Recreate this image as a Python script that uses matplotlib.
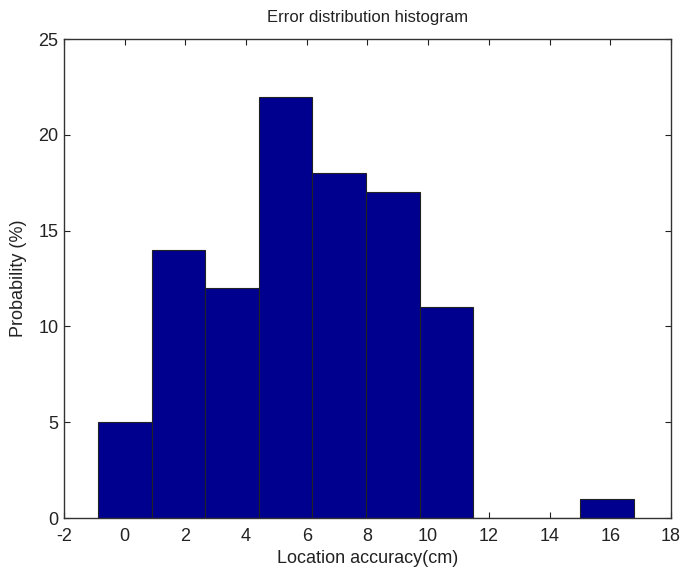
import matplotlib
matplotlib.use("Agg")
import matplotlib.pyplot as plt

# Data
bin_left_edges = [-0.88, 0.89, 2.65, 4.42, 6.18, 7.95, 9.72, 11.48, 13.25, 15.01]
bin_width = 1.766
probabilities = [5, 14, 12, 22, 18, 17, 11, 0, 0, 1]
x_ticks = [-2, 0, 2, 4, 6, 8, 10, 12, 14, 16, 18]
y_ticks = [0, 5, 10, 15, 20, 25]

plt.rcParams['font.family'] = ['Liberation Sans', 'DejaVu Sans']
plt.rcParams['axes.unicode_minus'] = False

fig = plt.figure(figsize=(6.86, 5.67), dpi=100)
ax = fig.add_axes([0.0933, 0.0864, 0.8847, 0.8446])

ax.bar(bin_left_edges, probabilities, width=bin_width, align='edge',
       color='#00008F', edgecolor='#222222', linewidth=0.8, zorder=2)

ax.set_xlim(-2, 18)
ax.set_ylim(0, 25)
ax.set_xticks(x_ticks)
ax.set_yticks(y_ticks)
ax.tick_params(direction='in', length=4, width=0.8, top=True, right=True,
               labelsize=13, colors='#222222')
ax.tick_params(axis='x', pad=7)
ax.tick_params(axis='y', pad=4)
for s in ax.spines.values():
    s.set_color('#333333')
    s.set_linewidth(1.0)

ax.set_title('Error distribution histogram', fontsize=12, color='#222222', pad=12)
ax.set_xlabel('Location accuracy(cm)', fontsize=13, color='#222222', labelpad=4)
ax.set_ylabel('Probability (%)', fontsize=13, color='#222222', labelpad=8)

fig.savefig('out.png', dpi=100)
